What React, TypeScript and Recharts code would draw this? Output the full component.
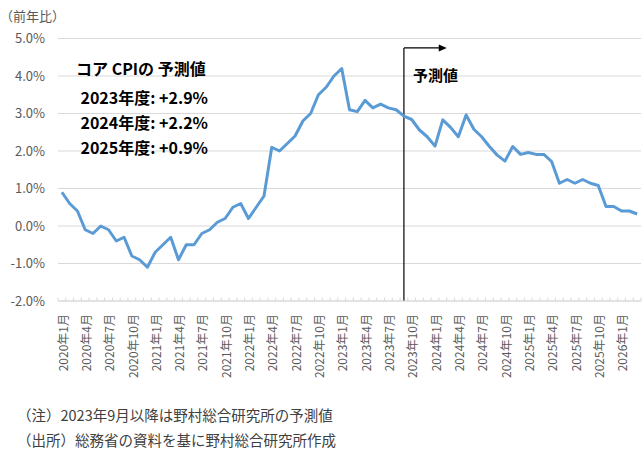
import React from "react";
import { LineChart, Line, XAxis, YAxis, CartesianGrid, ReferenceLine } from "recharts";

// ---- data ----
const years = [2020, 2021, 2022, 2023, 2024, 2025, 2026];
const months: string[] = [];
years.forEach((yr) => {
  const last = yr === 2026 ? 3 : 12;
  for (let m = 1; m <= last; m++) months.push(`${yr}年${m}月`);
});

const coreCpi: number[] = [
  // 2020
  0.9, 0.6, 0.4, -0.1, -0.2, 0.0, -0.1, -0.4, -0.3, -0.8, -0.9, -1.1,
  // 2021
  -0.7, -0.5, -0.3, -0.9, -0.5, -0.5, -0.2, -0.1, 0.1, 0.2, 0.5, 0.6,
  // 2022
  0.2, 0.5, 0.8, 2.1, 2.0, 2.2, 2.4, 2.8, 3.0, 3.5, 3.7, 4.0,
  // 2023
  4.2, 3.1, 3.05, 3.35, 3.15, 3.25, 3.15, 3.1, 2.93, 2.84, 2.56, 2.38,
  // 2024
  2.13, 2.83, 2.63, 2.38, 2.96, 2.58, 2.38, 2.12, 1.89, 1.73, 2.12, 1.91,
  // 2025
  1.96, 1.91, 1.91, 1.72, 1.14, 1.24, 1.14, 1.24, 1.14, 1.08, 0.52, 0.52,
  // 2026
  0.4, 0.4, 0.32,
];

const yTicks = [-2, -1, 0, 1, 2, 3, 4, 5];
const forecastStart = "2023年9月";
const arrowEnd = "2024年2月";
const arrowLevel = 4.75;

const forecastTitle = "コア CPIの 予測値";
const forecastRows = ["2023年度: +2.9%", "2024年度: +2.2%", "2025年度: +0.9%"];
const unitLabel = "（前年比）";
const forecastLabel = "予測値";
const notes = [
  "（注）2023年9月以降は野村総合研究所の予測値",
  "（出所）総務省の資料を基に野村総合研究所作成",
];

const data = months.map((m, i) => ({ month: m, cpi: coreCpi[i] }));

// ---- layout ----
const W = 644;
const H = 449;
const PLOT_LEFT = 58;
const PLOT_RIGHT = 641;
const PLOT_TOP = 38.5;
const XAXIS_H = 148;
const BAND = (PLOT_RIGHT - PLOT_LEFT) / months.length;
const FONT = '"Noto Sans CJK JP", "Noto Sans", sans-serif';

const XTick = (props: any) => {
  const { x, y, payload } = props;
  const index = payload?.index ?? props.index ?? 0;
  const lx = x + 1.5;
  const ly = y + 13;
  return (
    <g>
      <line x1={x - BAND / 2} x2={x - BAND / 2} y1={y} y2={y - 3.5} stroke="#d9d9d9" strokeWidth={1} />
      {index === months.length - 1 && (
        <line x1={x + BAND / 2} x2={x + BAND / 2} y1={y} y2={y - 3.5} stroke="#d9d9d9" strokeWidth={1} />
      )}
      {index % 3 === 0 && (
        <text
          x={lx}
          y={ly}
          transform={`rotate(-90, ${lx}, ${ly})`}
          textAnchor="end"
          dy="0.35em"
          fontSize={12}
          fill="#595959"
          fontFamily={FONT}
        >
          {payload.value}
        </text>
      )}
    </g>
  );
};

const YTick = (props: any) => {
  const { y, payload } = props;
  return (
    <text x={45} y={y} textAnchor="end" dy="0.35em" fontSize={13} fill="#595959" fontFamily={FONT}>
      {`${Number(payload.value).toFixed(1)}%`}
    </text>
  );
};

const ArrowShape = (props: any) => {
  const { x1, y1, x2, y2 } = props;
  return (
    <g>
      <line x1={x1} y1={y1} x2={x2 - 2} y2={y2} stroke="#000" strokeWidth={1.2} />
      <polygon points={`${x2 + 4},${y2} ${x2 - 4},${y2 - 3.5} ${x2 - 4},${y2 + 3.5}`} fill="#000" />
    </g>
  );
};

const abs = (left: number, cy: number, size: number, extra: React.CSSProperties = {}): React.CSSProperties => ({
  position: "absolute",
  left,
  top: cy - size / 2,
  fontSize: size,
  lineHeight: `${size}px`,
  whiteSpace: "nowrap",
  fontFamily: FONT,
  ...extra,
});

export default function App() {
  return (
    <div style={{ position: "absolute", left: 0, top: 0, width: W, height: H, background: "#fff", fontFamily: FONT }}>
      <LineChart
        width={W}
        height={H}
        data={data}
        margin={{ top: PLOT_TOP, right: W - PLOT_RIGHT, bottom: 0, left: 0 }}
      >
        <CartesianGrid horizontal vertical={false} stroke="#d9d9d9" strokeWidth={1} />
        <XAxis
          dataKey="month"
          interval={0}
          height={XAXIS_H}
          padding={{ left: BAND / 2, right: BAND / 2 }}
          tick={<XTick />}
          tickLine={false}
          tickSize={0}
          tickMargin={0}
          axisLine={{ stroke: "#d9d9d9", strokeWidth: 1 }}
        />
        <YAxis
          width={PLOT_LEFT}
          domain={[-2, 5]}
          ticks={yTicks}
          interval={0}
          axisLine={false}
          tickLine={false}
          tick={<YTick />}
        />
        <ReferenceLine
          segment={[
            { x: forecastStart, y: arrowLevel },
            { x: forecastStart, y: -2 },
          ]}
          stroke="#000"
          strokeWidth={1.2}
        />
        <ReferenceLine
          segment={[
            { x: forecastStart, y: arrowLevel },
            { x: arrowEnd, y: arrowLevel },
          ]}
          stroke="#000"
          shape={ArrowShape}
        />
        <Line
          type="linear"
          dataKey="cpi"
          stroke="#5b9bd5"
          strokeWidth={3}
          dot={false}
          activeDot={false}
          strokeLinejoin="round"
          isAnimationActive={false}
        />
      </LineChart>

      <div style={abs(0, 15, 13, { color: "#595959" })}>{unitLabel}</div>
      <div style={abs(76, 68, 16, { fontWeight: 700, color: "#000" })}>{forecastTitle}</div>
      {forecastRows.map((r, i) => (
        <div
          key={r}
          style={abs(0, 97 + i * 25, 16, { fontWeight: 700, color: "#000", width: 208, textAlign: "right" })}
        >
          {r}
        </div>
      ))}
      <div style={abs(413, 74, 15, { fontWeight: 700, color: "#000" })}>{forecastLabel}</div>
      {notes.map((n, i) => (
        <div key={n} style={abs(17, 415 + i * 25, 14.5, { color: "#404040" })}>
          {n}
        </div>
      ))}
    </div>
  );
}
